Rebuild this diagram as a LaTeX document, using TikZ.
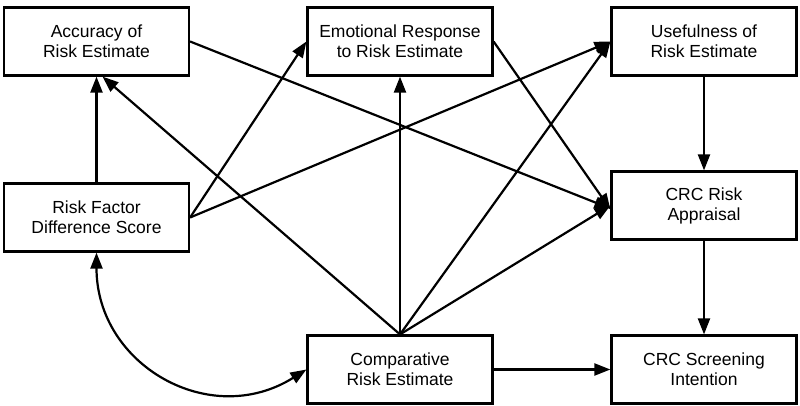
\documentclass[tikz,border=0pt]{standalone}
\usepackage{fontspec}
\setmainfont{Liberation Sans}
\usetikzlibrary{arrows.meta}
\begin{document}
\begin{tikzpicture}[x=1pt,y=-1pt,
  box/.style={draw,line width=2.2pt,minimum width=185pt,minimum height=68pt,inner sep=0pt,align=center,font=\fontsize{17.5}{20}\selectfont},
  arr/.style={line width=2.2pt,-{Triangle[length=16pt,width=12pt]}},
  darr/.style={line width=2.2pt,{Triangle[length=16pt,width=12pt]}-{Triangle[length=16pt,width=12pt]}}]
\useasboundingbox (0,0) rectangle (800,406);
\node[box] (acc) at (96.5,41.5) {Accuracy of\\Risk Estimate};
\node[box] (emo) at (400,41.5) {Emotional Response\\to Risk Estimate};
\node[box] (use) at (704,41.5) {Usefulness of\\Risk Estimate};
\node[box] (rf) at (96.5,217.5) {Risk Factor\\Difference Score};
\node[box] (crc) at (704,205.5) {CRC Risk\\Appraisal};
\node[box] (cmp) at (400,369.5) {Comparative\\Risk Estimate};
\node[box] (scr) at (704,369.5) {CRC Screening\\Intention};
\draw[arr] (rf) -- (acc);
\draw[arr] (cmp.north) -- ([xshift=6pt]acc.south);
\draw[arr] (rf.east) -- (emo.west);
\draw[arr] (rf.east) -- (use.west);
\draw[arr] (cmp.north) -- (emo.south);
\draw[arr] (cmp.north) -- (use.west);
\draw[arr] (cmp.north) -- (crc.west);
\draw[arr] (acc.east) -- ([yshift=-3pt]crc.west);
\draw[arr] (emo.east) -- ([yshift=-4pt]crc.west);
\draw[arr] (use) -- (crc);
\draw[arr] (crc) -- (scr);
\draw[arr] (cmp) -- (scr);
\draw[darr] (rf.south) .. controls (96.5,365) and (210,430) .. (cmp.west);
\end{tikzpicture}
\end{document}
